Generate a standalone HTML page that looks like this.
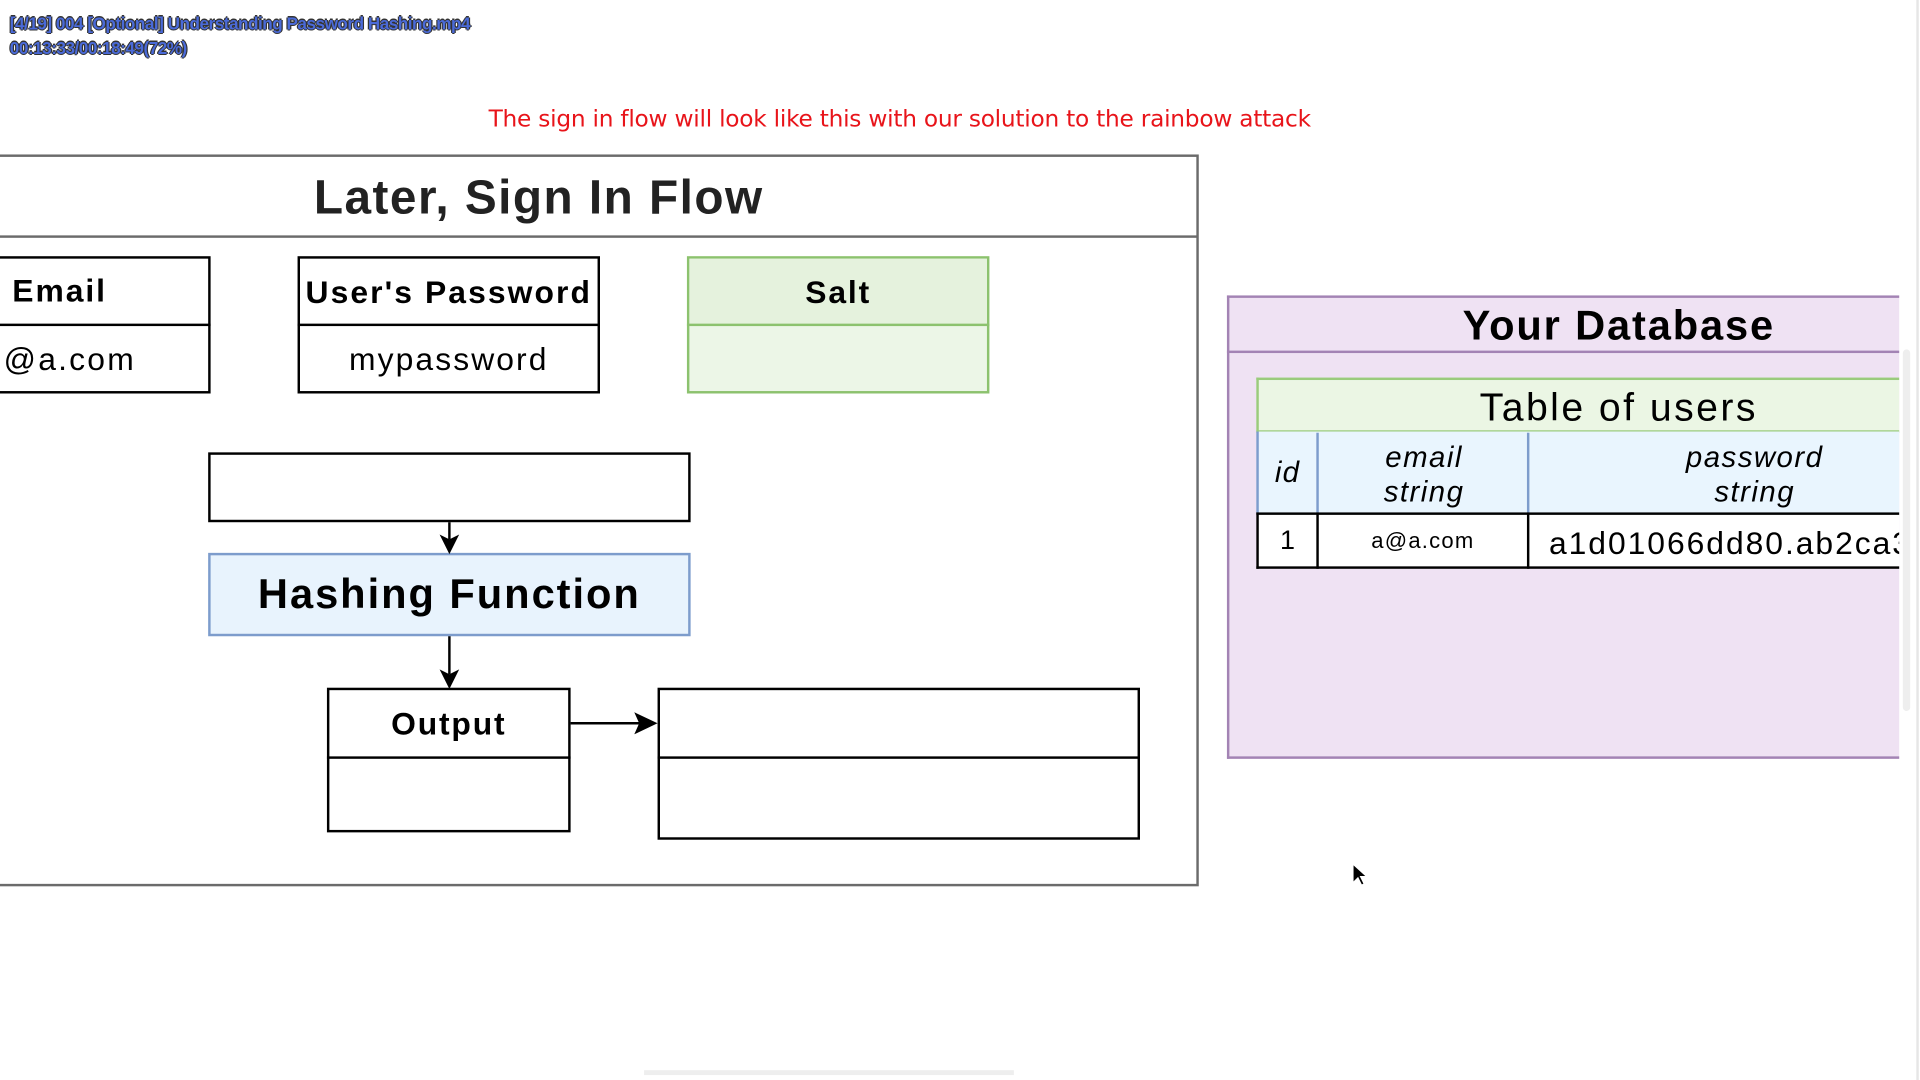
<!DOCTYPE html>
<html><head><meta charset="utf-8">
<style>
html,body{margin:0;padding:0;width:1920px;height:1080px;overflow:hidden;background:#fff;}
#w{position:absolute;left:0;top:0;width:1568px;height:881px;transform:scale(1.22449,1.22588);transform-origin:0 0;font-family:"Liberation Sans",Arial,sans-serif;}
.a{position:absolute;box-sizing:border-box;}
.c{display:flex;align-items:center;justify-content:center;}
.vt{color:#4a6ad8;font-weight:bold;font-size:14px;letter-spacing:-0.4px;text-shadow:-1px 0 #333,1px 0 #333,0 -1px #333,0 1px #333;}
</style></head><body><div id="w">
<div class="a vt" style="left:8px;top:11px;">[4/19] 004 [Optional] Understanding Password Hashing.mp4</div>
<div class="a vt" style="left:8px;top:31px;">00:13:33/00:18:49(72%)</div>
<div class="a" style="left:399px;top:86px;font-size:19px;color:#e8141a;font-family:'DejaVu Sans','Liberation Sans',sans-serif;letter-spacing:-0.2px;">The sign in flow will look like this with our solution to the rainbow attack</div>

<div class="a" style="left:-3px;top:126px;width:982px;height:597px;border:2px solid #6b6b6b;"></div>
<div class="a" style="left:0;top:192px;width:978px;height:2px;background:#6b6b6b;"></div>
<div class="a c" style="left:0;top:138px;width:880px;height:48px;font-size:39px;font-weight:bold;color:#222;letter-spacing:1.2px;">Later, Sign In Flow</div>

<div class="a" style="left:-3px;top:209px;width:175px;height:112px;border:2px solid #000;"></div>
<div class="a" style="left:0;top:264px;width:172px;height:2px;background:#000;"></div>
<div class="a" style="left:10px;top:222px;font-size:26px;font-weight:bold;letter-spacing:1.6px;">Email</div>
<div class="a" style="left:3px;top:278px;font-size:26px;letter-spacing:1.8px;">@a.com</div>

<div class="a" style="left:243px;top:209px;width:247px;height:112px;border:2px solid #000;"></div>
<div class="a" style="left:243px;top:264px;width:247px;height:2px;background:#000;"></div>
<div class="a c" style="left:243px;top:211px;width:247px;height:54px;font-size:26px;font-weight:bold;letter-spacing:1.7px;">User's Password</div>
<div class="a c" style="left:243px;top:266px;width:247px;height:54px;font-size:26px;letter-spacing:1.7px;">mypassword</div>

<div class="a" style="left:561px;top:209px;width:247px;height:112px;border:2px solid #8cc26e;background:#ecf6e7;"></div>
<div class="a" style="left:563px;top:211px;width:243px;height:53px;background:#e5f2dd;"></div>
<div class="a" style="left:561px;top:264px;width:247px;height:2px;background:#8cc26e;"></div>
<div class="a c" style="left:561px;top:211px;width:247px;height:54px;font-size:26px;font-weight:bold;letter-spacing:1.5px;">Salt</div>

<div class="a" style="left:170px;top:369px;width:394px;height:57px;border:2px solid #000;"></div>
<div class="a c" style="left:170px;top:451px;width:394px;height:68px;border:2px solid #7d9ccc;background:#e8f3fd;font-size:34px;font-weight:bold;letter-spacing:1.6px;">Hashing Function</div>
<div class="a" style="left:267px;top:561px;width:199px;height:118px;border:2px solid #000;"></div>
<div class="a" style="left:267px;top:617px;width:199px;height:2px;background:#000;"></div>
<div class="a c" style="left:267px;top:563px;width:199px;height:54px;font-size:26px;font-weight:bold;letter-spacing:1.5px;">Output</div>
<div class="a" style="left:537px;top:561px;width:394px;height:124px;border:2px solid #000;"></div>
<div class="a" style="left:537px;top:617px;width:394px;height:2px;background:#000;"></div>

<svg class="a" style="left:0;top:0" width="1568" height="881">
<g stroke="#000" stroke-width="2" fill="none">
<line x1="367" y1="426" x2="367" y2="440"/>
<line x1="367" y1="519" x2="367" y2="550"/>
<line x1="466" y1="590" x2="524" y2="590"/>
</g>
<g fill="#000">
<polygon points="359,436 367,452 375,436 367,440"/>
<polygon points="359,546 367,562 375,546 367,550"/>
<polygon points="518,581 537,590 518,599 522,590"/>
<polygon points="1105,705 1105,720 1109,716 1112,722 1114,721 1111,715 1116,715" stroke="#fff" stroke-width="0.8"/>
</g>
</svg>

<div class="a" style="left:1002px;top:241px;width:549px;height:378px;border:2px solid #a383b4;border-right:none;background:#efe2f3;"></div>
<div class="a" style="left:1002px;top:286px;width:549px;height:2px;background:#a383b4;"></div>
<div class="a c" style="left:1092px;top:245px;width:460px;height:42px;font-size:34px;font-weight:bold;letter-spacing:1.5px;">Your Database</div>

<div class="a" style="left:1026px;top:308px;width:525px;height:45px;border:2px solid #9acb7c;border-right:none;background:#ebf6e4;"></div>
<div class="a c" style="left:1092px;top:310px;width:460px;height:44px;font-size:32px;letter-spacing:2px;">Table of users</div>
<div class="a" style="left:1026px;top:352px;width:525px;height:67px;border-left:2px solid #7d9ccc;background:#e9f5fe;"></div>
<div class="a" style="left:1075px;top:353px;width:2px;height:66px;background:#7d9ccc;"></div>
<div class="a" style="left:1247px;top:353px;width:2px;height:66px;background:#7d9ccc;"></div>
<div class="a c" style="left:1028px;top:354px;width:47px;height:64px;font-size:24px;font-style:italic;letter-spacing:1px;">id</div>
<div class="a c" style="left:1077px;top:358px;width:172px;height:60px;font-size:24px;font-style:italic;text-align:center;line-height:28px;letter-spacing:1.2px;">email<br>string</div>
<div class="a c" style="left:1249px;top:358px;width:368px;height:60px;font-size:24px;font-style:italic;text-align:center;line-height:28px;letter-spacing:1.2px;">password<br>string</div>
<div class="a" style="left:1026px;top:418px;width:525px;height:46px;border:2px solid #000;border-right:none;background:#fff;"></div>
<div class="a" style="left:1075px;top:418px;width:2px;height:46px;background:#000;"></div>
<div class="a" style="left:1247px;top:418px;width:2px;height:46px;background:#000;"></div>
<div class="a c" style="left:1028px;top:420px;width:47px;height:42px;font-size:22px;">1</div>
<div class="a c" style="left:1077px;top:420px;width:170px;height:42px;font-size:18px;letter-spacing:1px;">a@a.com</div>
<div class="a" style="left:1249px;top:420px;width:302px;height:42px;overflow:hidden;"><div style="position:absolute;left:16px;top:8px;font-size:26px;white-space:nowrap;letter-spacing:1.6px;">a1d01066dd80.ab2ca3f</div></div>

<div class="a" style="left:1554px;top:285px;width:6px;height:295px;background:#eee;border-radius:3px;"></div>
<div class="a" style="left:1565px;top:0;width:2px;height:881px;background:#e6e6e6;"></div>
<div class="a" style="left:526px;top:873px;width:302px;height:4px;background:#eee;"></div>
</div></body></html>
